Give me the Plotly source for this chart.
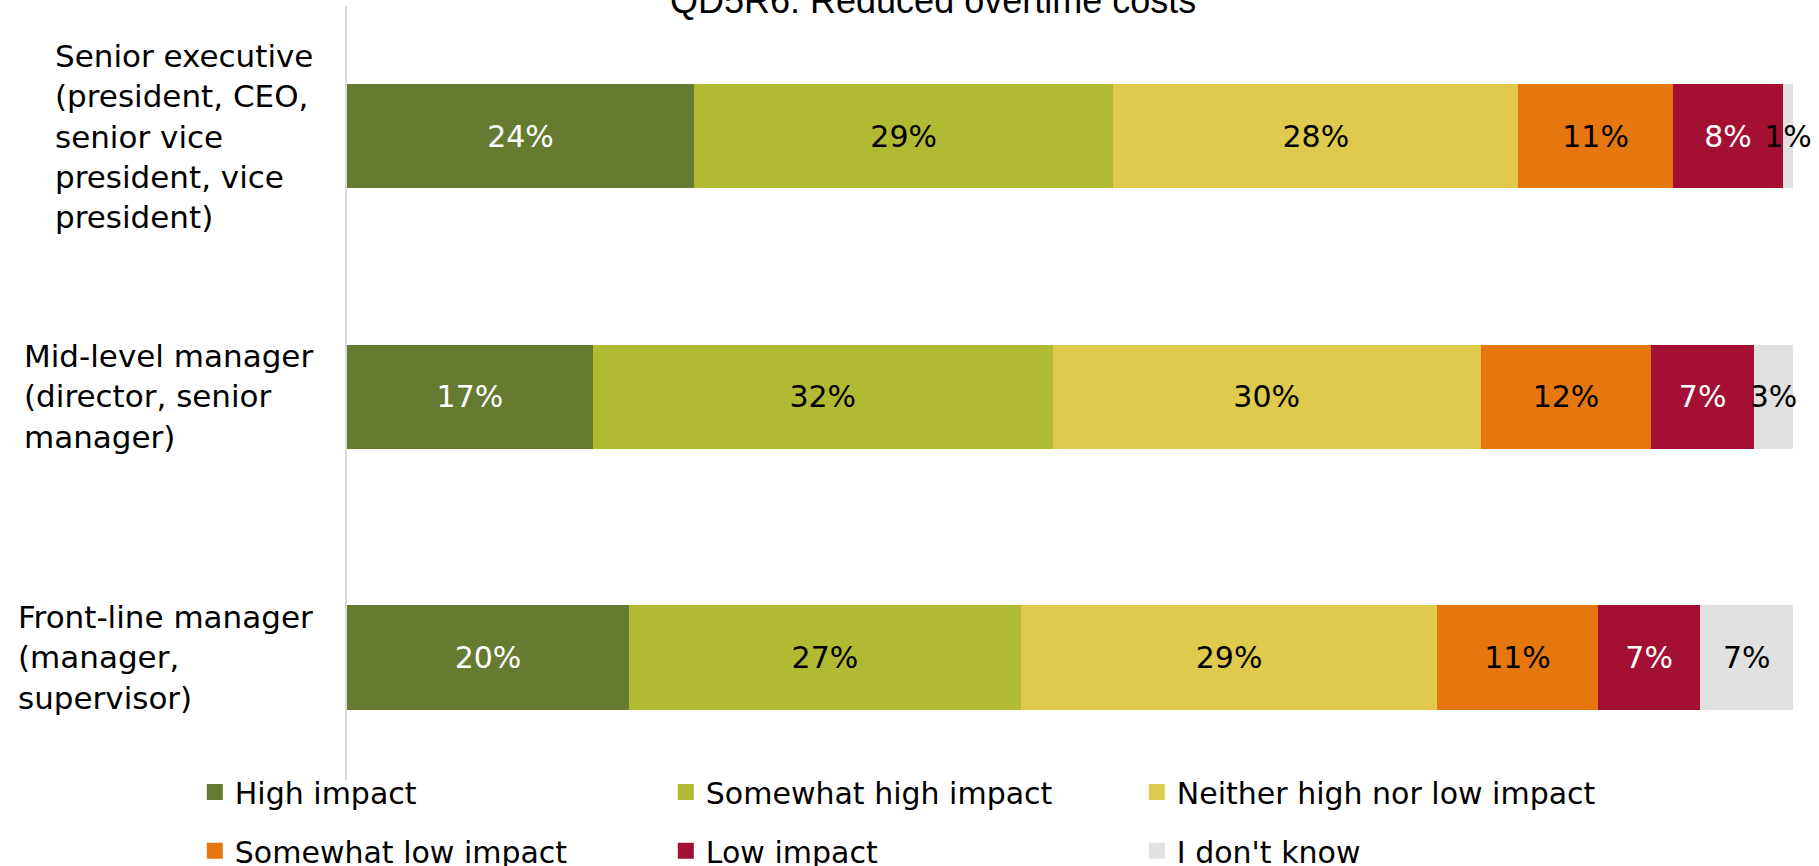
import plotly.graph_objects as go

categories = [
    "Senior executive<br>(president, CEO,<br>senior vice<br>president, vice<br>president)",
    "Mid-level manager<br>(director, senior<br>manager)",
    "Front-line manager<br>(manager,<br>supervisor)",
]
cat_keys = ["Senior executive", "Mid-level manager", "Front-line manager"]

series_names = [
    "High impact",
    "Somewhat high impact",
    "Neither high nor low impact",
    "Somewhat low impact",
    "Low impact",
    "I don't know",
]

# estimated segment shares (percent) per category
high = [24.0, 17.0, 19.5]
somewhat_high = [29.0, 31.8, 27.1]
neither = [28.0, 29.6, 28.8]
somewhat_low = [10.7, 11.8, 11.1]
low = [7.6, 7.1, 7.1]
dont_know = [0.7, 2.7, 6.4]

# printed labels
high_lbl = [24, 17, 20]
somewhat_high_lbl = [29, 32, 27]
neither_lbl = [28, 30, 29]
somewhat_low_lbl = [11, 12, 11]
low_lbl = [8, 7, 7]
dont_know_lbl = [1, 3, 7]

values = [high, somewhat_high, neither, somewhat_low, low, dont_know]
labels = [high_lbl, somewhat_high_lbl, neither_lbl, somewhat_low_lbl, low_lbl, dont_know_lbl]
colors = ["#667A32", "#B0BA32", "#DFCA4E", "#E6760E", "#A31034", "#E1E1E1"]
text_colors = ["white", "black", "black", "black", "white", "black"]
legend_ids = ["legend", "legend", "legend", "legend2", "legend2", "legend2"]

FONT = "DejaVu Sans"

fig = go.Figure()
for name, vals, lbls, col, tcol, lid in zip(series_names, values, labels, colors, text_colors, legend_ids):
    fig.add_trace(go.Bar(
        y=cat_keys, x=vals, name=name, orientation="h",
        marker=dict(color=col, line=dict(width=0)),
        text=[f"{v}%" for v in lbls], textposition="inside",
        insidetextanchor="middle", textangle=0, constraintext="none",
        cliponaxis=False,
        textfont=dict(family=FONT, size=30, color=tcol),
        width=0.4, hoverinfo="skip", legendgroup=name, showlegend=False,
    ))
    # legend entry with a larger square swatch
    fig.add_trace(go.Scatter(
        x=[None], y=[None], mode="markers", name=name, legendgroup=name,
        marker=dict(symbol="square", size=20, color=col), legend=lid,
        hoverinfo="skip",
    ))

for key, lab in zip(cat_keys, categories):
    fig.add_annotation(
        x=-0.0222, xref="paper", y=key, yref="y",
        text=lab, showarrow=False, xanchor="right", yanchor="middle",
        align="left", font=dict(family=FONT, size=31, color="black"),
    )

fig.add_annotation(
    x=0.4055, xref="paper", y=1.0077, yref="paper",
    text="QD5R6: Reduced overtime costs", showarrow=False,
    xanchor="center", yanchor="middle",
    font=dict(family="Liberation Sans", size=36, color="black"),
)

leg_common = dict(orientation="h", xref="container", yref="container",
                  x=0.1071, xanchor="left", yanchor="middle",
                  entrywidth=426, entrywidthmode="pixels", traceorder="normal",
                  font=dict(family=FONT, size=30, color="black"),
                  bgcolor="rgba(0,0,0,0)")

fig.update_layout(
    barmode="stack",
    width=1819, height=866,
    margin=dict(l=347, r=26, t=6, b=86, autoexpand=False),
    plot_bgcolor="white", paper_bgcolor="white",
    xaxis=dict(range=[0, 100], visible=False, fixedrange=True),
    yaxis=dict(categoryorder="array", categoryarray=cat_keys, range=[2.47, -0.5],
               showticklabels=False, showline=True, linecolor="#D9D9D9", linewidth=2,
               ticks="", showgrid=False, zeroline=False),
    legend=dict(leg_common, y=0.0855),
    legend2=dict(leg_common, y=0.0175),
    showlegend=True,
)

fig.write_html("out.html", config={"displayModeBar": False},
               post_script="document.body.style.margin='0';document.body.style.overflow='hidden';")
